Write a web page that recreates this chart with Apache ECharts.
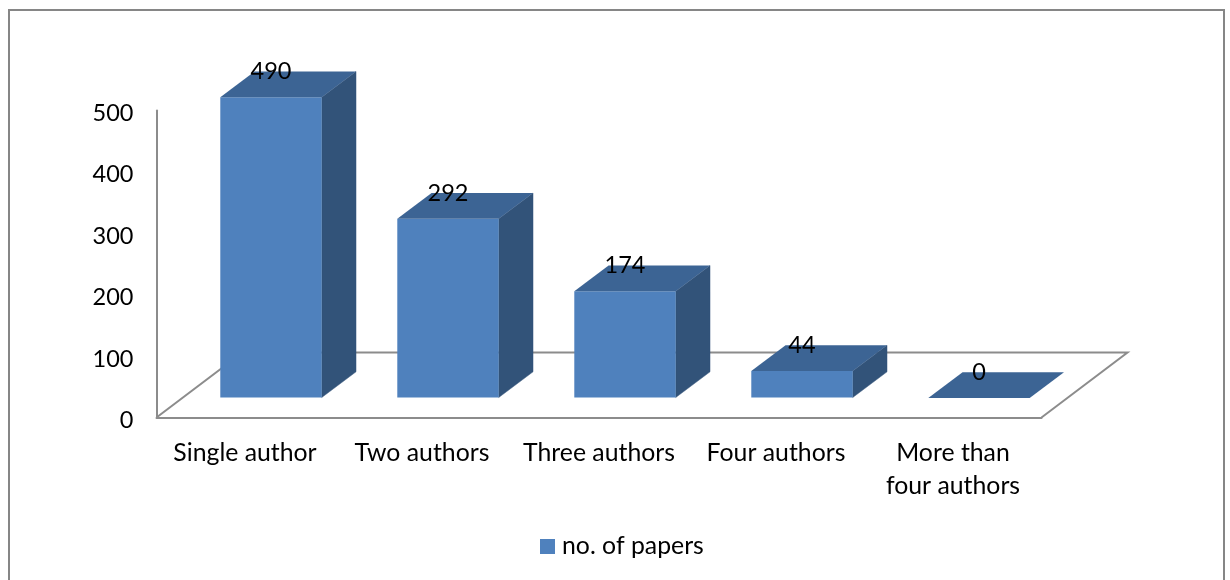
<!DOCTYPE html>
<html>
<head>
<meta charset="utf-8">
<style>html,body{margin:0;padding:0;background:#fff;overflow:hidden}#c{width:1230px;height:580px}</style>
<script src="https://cdn.jsdelivr.net/npm/echarts@6/dist/echarts.min.js"></script>
</head>
<body>
<div id="c"></div>
<script>
const categories = ['Single author', 'Two authors', 'Three authors', 'Four authors', 'More than\nfour authors'];
const paperCounts = [490, 292, 174, 44, 0];
const yTicks = { min: 0, max: 500, interval: 100 };
const seriesName = 'no. of papers';

const FONT = 'Lato';
const FS_NUM = 23.5;
const FS_TXT = 24.8;
const FRONT = '#4f81bd', TOP = '#3c6494', SIDE = '#325379', AXIS = '#8c8c8c';

const chart = echarts.init(document.getElementById('c'), null, { renderer: 'canvas' });

function renderFloor(params, api) {
  const g = params.coordSys;
  const dx = 86, dy = -65;
  const x0 = g.x, x1 = g.x + g.width, y = g.y + g.height;
  return {
    type: 'polyline',
    shape: { points: [[x0, y], [x0 + dx, y + dy], [x1 + dx, y + dy], [x1, y]] },
    style: { fill: null, stroke: AXIS, lineWidth: 2 },
    silent: true
  };
}

function renderBar(params, api) {
  const p = api.coord([api.value(0), api.value(1)]);
  const base = api.coord([api.value(0), 0]);
  const bw = api.size([1, 0])[0] * 0.573;
  const ox = 26, oy = -20;
  const dx = 34.3, dy = -25.7;
  const l = p[0] + ox - bw / 2, r = l + bw;
  const t = p[1] + oy + 0.5, b = base[1] + oy;
  const children = [];
  if (b - t > 0.6) {
    children.push({ type: 'polygon', shape: { points: [[r, t], [r + dx, t + dy], [r + dx, b + dy], [r, b]] }, style: { fill: SIDE, stroke: SIDE, lineWidth: 0.5 } });
    children.push({ type: 'rect', shape: { x: l, y: t, width: bw, height: b - t }, style: { fill: FRONT } });
  }
  children.push({ type: 'polygon', shape: { points: [[l, t], [l + dx, t + dy], [r + dx, t + dy], [r, t]] }, style: { fill: TOP } });
  children.push({
    type: 'text', z2: 10,
    style: {
      x: l + bw / 2, y: t + dy, text: String(api.value(1)),
      align: 'center', verticalAlign: 'middle',
      font: FS_NUM + 'px ' + FONT, fill: '#000'
    }
  });
  return { type: 'group', children };
}

chart.setOption({
  animation: false,
  backgroundColor: '#fff',
  graphic: [{
    type: 'rect', silent: true, z: -1,
    shape: { x: 9, y: 10, width: 1215, height: 600 },
    style: { fill: null, stroke: '#868686', lineWidth: 2 }
  }],
  grid: { left: 156.5, right: 188.5, top: 110.5, height: 307, containLabel: false },
  legend: {
    data: [{ name: seriesName, icon: 'rect' }],
    left: 535, top: 529,
    itemWidth: 15, itemHeight: 15, itemGap: 7,
    textStyle: { fontFamily: FONT, fontSize: FS_TXT, color: '#000', padding: [0, 0, 0, 2] }
  },
  xAxis: {
    type: 'category', data: categories,
    axisTick: { show: false },
    axisLine: { lineStyle: { color: AXIS, width: 2 } },
    axisLabel: { fontFamily: FONT, fontSize: FS_TXT, color: '#000', lineHeight: 33, margin: 19, interval: 0 }
  },
  yAxis: {
    type: 'value', min: yTicks.min, max: yTicks.max, interval: yTicks.interval,
    splitLine: { show: false },
    axisTick: { show: false },
    axisLine: { show: true, lineStyle: { color: AXIS, width: 2 } },
    axisLabel: { fontFamily: FONT, fontSize: FS_NUM, color: '#000', margin: 23, verticalAlign: 'top', lineHeight: 6 }
  },
  series: [
    { type: 'custom', name: 'floor', coordinateSystem: 'cartesian2d', silent: true, z: 1, clip: false,
      renderItem: renderFloor, data: [[0, 0]], encode: { x: 0, y: 1 } },
    { type: 'custom', name: seriesName, coordinateSystem: 'cartesian2d', z: 2, clip: false,
      itemStyle: { color: FRONT },
      renderItem: renderBar, data: paperCounts.map((v, i) => [i, v]), encode: { x: 0, y: 1 } }
  ]
});
</script>
</body>
</html>
